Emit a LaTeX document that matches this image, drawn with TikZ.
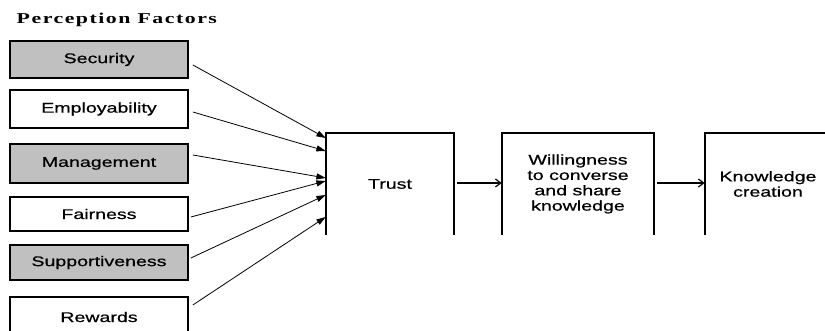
\documentclass[tikz,border=0pt]{standalone}
\usepackage{fontspec}
\setmainfont{Liberation Sans}
\newfontfamily\boxfont[FakeStretch=1.4,FakeBold=0.6]{Liberation Sans}
\newfontfamily\titlefont[FakeStretch=1.45,LetterSpace=10]{Liberation Serif}
\usetikzlibrary{arrows.meta,calc}
\definecolor{boxgrey}{RGB}{192,192,192}

\begin{document}
\begin{tikzpicture}[x=0.75pt,y=-0.75pt,
  boxtext/.style={font=\boxfont\fontsize{10.5}{11.5}\selectfont,align=center},
  factor/.style={boxtext,draw,line width=1.3pt,minimum width=133.5pt,inner sep=0pt},
  shaded/.style={factor,fill=boxgrey},
  stage/.style={boxtext,draw=none,minimum height=76.5pt,inner sep=0pt},
  outline/.style={line width=1.3pt},
  feed/.style={line width=0.6pt,-{Triangle[length=7pt,width=4.5pt]}},
  flow/.style={line width=0.9pt,shorten <=2.25pt,-{Straight Barb[length=4pt,width=6pt]}}
]
\useasboundingbox (0,0) rectangle (825,331);

% heading
\node[anchor=base west,font=\titlefont\bfseries\fontsize{11.3}{13}\selectfont] (title) at (12,24) {Perception Factors};

% perception factors
\node[shaded,minimum height=27.75pt] (sec)  at (99,59.5)  {Security};
\node[factor,minimum height=28.5pt]  (emp)  at (99,109)   {Employability};
\node[shaded,minimum height=29.25pt] (man)  at (99,163.5) {Management};
\node[factor,minimum height=25.5pt]  (fair) at (99,214)   {Fairness};
\node[shaded,minimum height=26.25pt] (sup)  at (99,262.5) {Supportiveness};
\node[factor,minimum height=30pt]    (rew)  at (99,317)   {Rewards};

% stages
\node[stage,minimum width=96pt]    (trust) at (390,184) {Trust};
\node[stage,minimum width=114pt]   (will)  at (578,184) {Willingness\\to converse\\and share\\knowledge};
\node[stage,minimum width=94.5pt]  (know)  at (768,184) {Knowledge\\creation};

\draw[outline] (trust.south west) -- (trust.north west) -- (trust.north east) -- (trust.south east);
\draw[outline] (will.south west) -- (will.north west) -- (will.north east) -- (will.south east);
\draw[outline] (know.south west) -- (know.north west) -- (know.north east) -- (know.south east);

% factors feeding trust
\draw[feed] ($(sec.east)+(4,5.5)$)  -- ($(trust.west)+(0,-46)$);
\draw[feed] ($(emp.east)+(4,3)$)    -- ($(trust.west)+(0,-33)$);
\draw[feed] ($(man.east)+(4,-8.5)$) -- ($(trust.west)+(0,-6)$);
\draw[feed] ($(fair.east)+(2,3)$)   -- ($(trust.west)+(0,-3)$);
\draw[feed] ($(sup.east)+(2,-4.5)$) -- ($(trust.west)+(0,11)$);
\draw[feed] ($(rew.east)+(4,-12)$)  -- ($(trust.west)+(0,33)$);

% trust leads on
\draw[flow] ($(trust.east)+(0,-1)$) -- ($(will.west)+(0,-1)$);
\draw[flow] ($(will.east)+(0,-1)$)  -- ($(know.west)+(0,-1)$);
\end{tikzpicture}
\end{document}
